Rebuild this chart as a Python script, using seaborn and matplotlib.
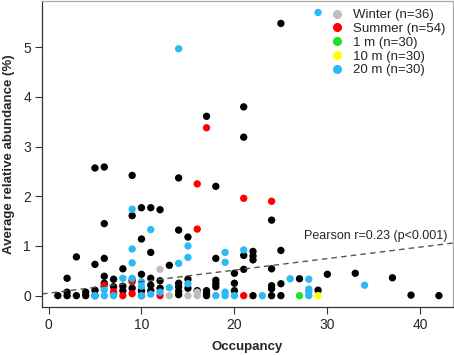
import numpy as np
import pandas as pd
import matplotlib
matplotlib.use('Agg')
import matplotlib.pyplot as plt
from matplotlib.lines import Line2D
import seaborn as sns

# === data ===
all_x = [1, 2, 2, 2, 3, 3, 4, 4, 5, 5, 5, 5, 6, 6, 6, 6, 6, 7, 7, 8, 8, 8,
         9, 9, 9, 9, 10, 10, 10, 10, 10, 11, 11, 11, 11, 11, 12, 12, 12, 13,
         14, 14, 14, 14, 14, 14, 15, 15, 15, 16, 17, 17, 17, 17, 18, 18, 18,
         18, 18, 20, 20, 20, 21, 21, 21, 21, 22, 22, 22, 22, 24, 24, 24, 24,
         24, 25, 25, 25, 25, 27, 29, 30, 33, 37, 39, 42]
all_y = [0, 0, 0.07, 0.35, 0, 0.78, 0, 0.07, 0, 0.11, 0.63, 2.57, 0.39, 0.75,
         1.45, 2.59, 0.25, 0.33, 0.18, 0.54, 0.19, 0.10, 2.42, 1.61, 0.31, 0.15,
         1.77, 1.14, 0.43, 0.10, 0, 1.77, 0.87, 0.35, 0.21, 0.10, 1.73, 0.30,
         0.15, 0.61, 2.37, 1.32, 0.25, 0.18, 0.09, 0.02, 1.18, 0.33, 0.15, 0.10,
         3.61, 0.10, 0.04, 0, 2.20, 0.75, 0.31, 0.24, 0.18, 0.45, 0.25, 0.10,
         3.80, 3.19, 0.81, 0.53, 0.89, 0.80, 0.72, 0, 1.52, 0.54, 0.20, 0.14,
         0, 5.48, 0.91, 0.24, 0, 0.34, 0.11, 0.43, 0.45, 0.36, 0.01, 0]

winter_x = [12, 13, 15, 16, 16]
winter_y = [0.53, 0, 0, 0.07, 0]

summer_x = [17, 16, 21, 16, 24, 6, 7, 7, 8, 9, 9, 12, 21]
summer_y = [3.38, 2.25, 1.96, 1.34, 1.90, 0.21, 0.08, 0.03, 0, 0.28, 0.04, 0, 0]

m1_x = [27]
m1_y = [0]

m10_x = [29]
m10_y = [0]

m20_x = [14, 29, 9, 11, 9, 15, 15, 19, 19, 21, 9, 14, 8, 9, 10, 10, 15, 13,
         12, 6, 5, 6, 7, 10, 11, 18, 19, 19, 20, 23, 26, 28, 28, 28, 28, 34]
m20_y = [4.97, 5.70, 1.74, 1.33, 0.94, 1.00, 0.77, 0.87, 0.67, 0.92, 0.66,
         0.65, 0.35, 0.35, 0.28, 0.19, 0.24, 0.16, 0.07, 0.12, 0, 0, 0, 0,
         0.03, 0, 0.07, 0, 0, 0, 0.34, 0.33, 0.13, 0.08, 0, 0.21]

group_labels = ['Winter (n=36)', 'Summer (n=54)', '1 m (n=30)', '10 m (n=30)', '20 m (n=30)']
fit_intercept = 0.05
fit_slope = 0.0232
pearson_text = 'Pearson r=0.23 (p<0.001)'

colors = {'all': 'black', 'winter': '#BEBEBE', 'summer': '#FF0000',
          '1m': '#22E022', '10m': '#FFFF00', '20m': '#2DB9F5'}

# preprocess into dataframe to work with seaborn (draw order = row order)
rows = []
for name, xs, ys in [('all', all_x, all_y), ('winter', winter_x, winter_y),
                     ('summer', summer_x, summer_y), ('1m', m1_x, m1_y),
                     ('10m', m10_x, m10_y), ('20m', m20_x, m20_y)]:
    for x, y in zip(xs, ys):
        rows.append([name, x, y])
plot_df = pd.DataFrame(rows, columns=['group', 'occupancy', 'abundance'])

sns.set_style('white')
plt.rcParams['font.family'] = ['Liberation Sans', 'DejaVu Sans']

f = plt.figure(figsize=(4.54, 3.55), dpi=100)
ax = f.add_axes([0.0925, 0.135, 0.905, 0.862])

sns.scatterplot(ax=ax, data=plot_df, x='occupancy', y='abundance', hue='group',
                palette=colors, s=28, linewidth=0, legend=False)

# regression line across the full panel
ax.axline((0, fit_intercept), slope=fit_slope, color='#555555', lw=1,
          ls=(0, (4, 3)), zorder=1)
ax.text(27.5, 1.2, pearson_text, fontsize=9, va='center', ha='left')

ax.set_xlim(-0.7, 43.5)
ax.set_ylim(-0.23, 5.93)
ax.set_xticks([0, 10, 20, 30, 40])
ax.set_yticks([0, 1, 2, 3, 4, 5])
ax.tick_params(axis='both', direction='out', length=5, width=0.8,
               color='#333333', labelsize=10, pad=3, left=True, bottom=True)
ax.set_xlabel('Occupancy', fontweight='bold', fontsize=9.5, labelpad=6)
ax.set_ylabel('Average relative abundance (%)', fontweight='bold', fontsize=9.5, labelpad=6)

for side in ['left', 'bottom']:
    ax.spines[side].set_color('#333333')
    ax.spines[side].set_linewidth(0.9)
for side in ['top', 'right']:
    ax.spines[side].set_color('#AAAAAA')
    ax.spines[side].set_linewidth(0.9)

handles = [Line2D([], [], marker='o', ls='', color=colors[k], markersize=5.5)
           for k in ['winter', 'summer', '1m', '10m', '20m']]
ax.legend(handles, group_labels, loc='upper right', frameon=False, fontsize=9.5,
          handletextpad=0.15, labelspacing=0.12, borderaxespad=0.2,
          bbox_to_anchor=(1.0, 1.0))

f.savefig('out.png', dpi=100)
